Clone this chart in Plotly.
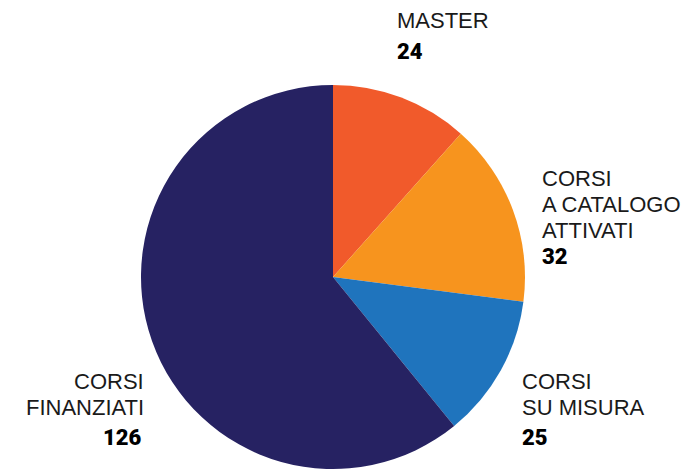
import plotly.graph_objects as go

labels = ["MASTER", "CORSI<br>A CATALOGO<br>ATTIVATI", "CORSI<br>SU MISURA", "CORSI<br>FINANZIATI"]
values = [24, 32, 25, 126]
colors = ["#F15A2B", "#F7941E", "#1F74BD", "#262262"]

W, H = 690, 469

fig = go.Figure(go.Pie(
    labels=labels, values=values, sort=False, direction="clockwise", rotation=0,
    marker=dict(colors=colors, line=dict(width=0)),
    textinfo="none", hoverinfo="skip", showlegend=False,
    domain=dict(x=[133 / W, 517 / W], y=[8 / H, 392 / H]),
))

# label block positions in figure pixels: (x, first line top, number top, anchor)
pos = [
    (388, -0.5, 30, "left"),
    (533, 156.5, 235, "left"),
    (513, 359.5, 416, "left"),
    (137, 359.5, 416, "right"),
]
LS = 26.4
for (x, yl, yn, anc), lab, v in zip(pos, labels, values):
    for i, line in enumerate(lab.split("<br>")):
        fig.add_annotation(x=x / W, y=1 - (yl + i * LS) / H, xref="paper", yref="paper",
                           xanchor=anc, yanchor="top", align=anc, showarrow=False,
                           text=line, borderpad=0,
                           font=dict(family="Liberation Sans", size=22, color="#1a1a1a"))
    xn = x - 2 if anc == "right" else x
    fig.add_annotation(x=xn / W, y=1 - yn / H, xref="paper", yref="paper",
                       xanchor=anc, yanchor="top", align=anc, showarrow=False,
                       text=str(v), borderpad=0,
                       font=dict(family="Roboto", size=22, color="#000000", weight=900))

fig.update_layout(width=W, height=H, margin=dict(l=0, r=0, t=0, b=0),
                  paper_bgcolor="white", plot_bgcolor="white")
fig.write_html("out.html")
